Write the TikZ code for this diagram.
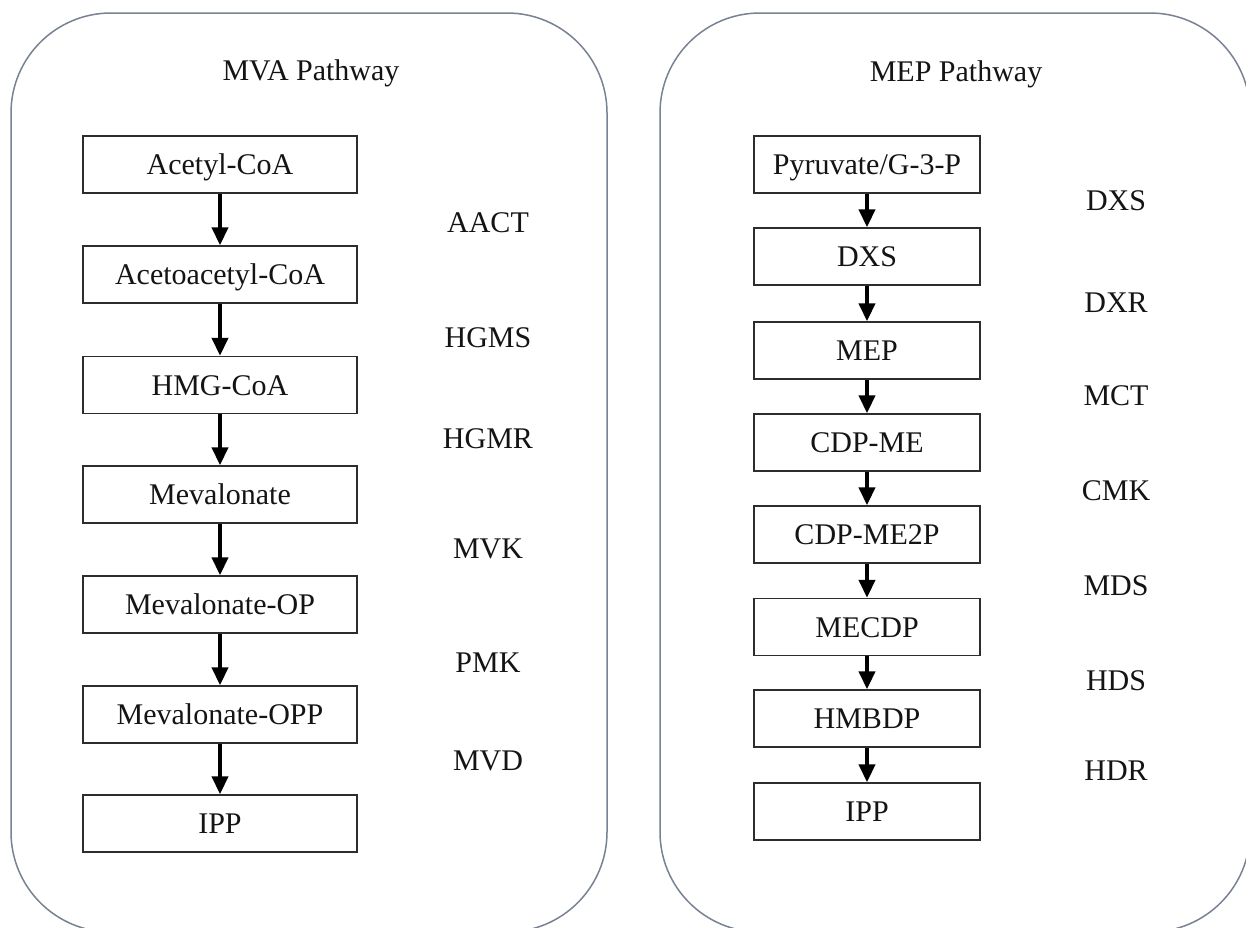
\documentclass[tikz,border=0pt]{standalone}
\usepackage{fontspec}
\setmainfont{Liberation Serif}
\usetikzlibrary{arrows.meta}
\definecolor{panelgray}{RGB}{120,130,146}
\definecolor{boxgray}{RGB}{45,45,45}
\definecolor{inkcol}{RGB}{20,20,20}
\begin{document}
\begin{tikzpicture}[x=1pt,y=-1pt,
  panel/.style={draw=panelgray, line width=1.5pt, rounded corners=100pt},
  stepbox/.style={draw=boxgray, line width=1.4pt, rectangle, minimum height=57pt, inner sep=0pt,
    text=inkcol, font=\fontsize{30}{36}\selectfont, text height=20pt, text depth=0pt},
  mvabox/.style={stepbox, minimum width=274pt},
  mepbox/.style={stepbox, minimum width=226pt},
  enz/.style={text=inkcol, font=\fontsize{30}{36}\selectfont, inner sep=0pt, text height=20pt, text depth=0pt},
  flow/.style={line width=4pt, -{Triangle[width=16pt,length=18pt]}}
]
\useasboundingbox (0,0) rectangle (1246,927);
\clip (0,0) rectangle (1246,927);
\fill[white] (0,0) rectangle (1246,927);

% panels
\draw[panel] (11,13) rectangle (607,932);
\draw[panel] (660,13) rectangle (1250,932);

% titles
\node[enz] (t1) at (311,70) {MVA Pathway};
\node[enz] (t2) at (956,71) {MEP Pathway};

% MVA pathway
\node[mvabox] (a1) at (220,164.5) {Acetyl-CoA};
\node[mvabox] (a2) at (220,274.5) {Acetoacetyl-CoA};
\node[mvabox] (a3) at (220,385) {HMG-CoA};
\node[mvabox] (a4) at (220,494.5) {Mevalonate};
\node[mvabox] (a5) at (220,604.5) {Mevalonate-OP};
\node[mvabox] (a6) at (220,714.5) {Mevalonate-OPP};
\node[mvabox] (a7) at (220,823.5) {IPP};

\draw[flow] (a1.south) -- (a2.north);
\draw[flow] (a2.south) -- (a3.north);
\draw[flow] (a3.south) -- (a4.north);
\draw[flow] (a4.south) -- (a5.north);
\draw[flow] (a5.south) -- (a6.north);
\draw[flow] (a6.south) -- (a7.north);

\node[enz] (e1) at (488,222) {AACT};
\node[enz] (e2) at (488,337) {HGMS};
\node[enz] (e3) at (488,438) {HGMR};
\node[enz] (e4) at (488,548) {MVK};
\node[enz] (e5) at (488,662) {PMK};
\node[enz] (e6) at (488,760) {MVD};

% MEP pathway
\node[mepbox] (b1) at (867,164.5) {Pyruvate/G-3-P};
\node[mepbox] (b2) at (867,256.5) {DXS};
\node[mepbox] (b3) at (867,350.5) {MEP};
\node[mepbox] (b4) at (867,442.5) {CDP-ME};
\node[mepbox] (b5) at (867,534.5) {CDP-ME2P};
\node[mepbox] (b6) at (867,627) {MECDP};
\node[mepbox] (b7) at (867,718.5) {HMBDP};
\node[mepbox] (b8) at (867,811.5) {IPP};

\draw[flow] (b1.south) -- (b2.north);
\draw[flow] (b2.south) -- (b3.north);
\draw[flow] (b3.south) -- (b4.north);
\draw[flow] (b4.south) -- (b5.north);
\draw[flow] (b5.south) -- (b6.north);
\draw[flow] (b6.south) -- (b7.north);
\draw[flow] (b7.south) -- (b8.north);

\node[enz] (f1) at (1116,200) {DXS};
\node[enz] (f2) at (1116,302) {DXR};
\node[enz] (f3) at (1116,395) {MCT};
\node[enz] (f4) at (1116,490) {CMK};
\node[enz] (f5) at (1116,585) {MDS};
\node[enz] (f6) at (1116,680) {HDS};
\node[enz] (f7) at (1116,770) {HDR};
\end{tikzpicture}
\end{document}
